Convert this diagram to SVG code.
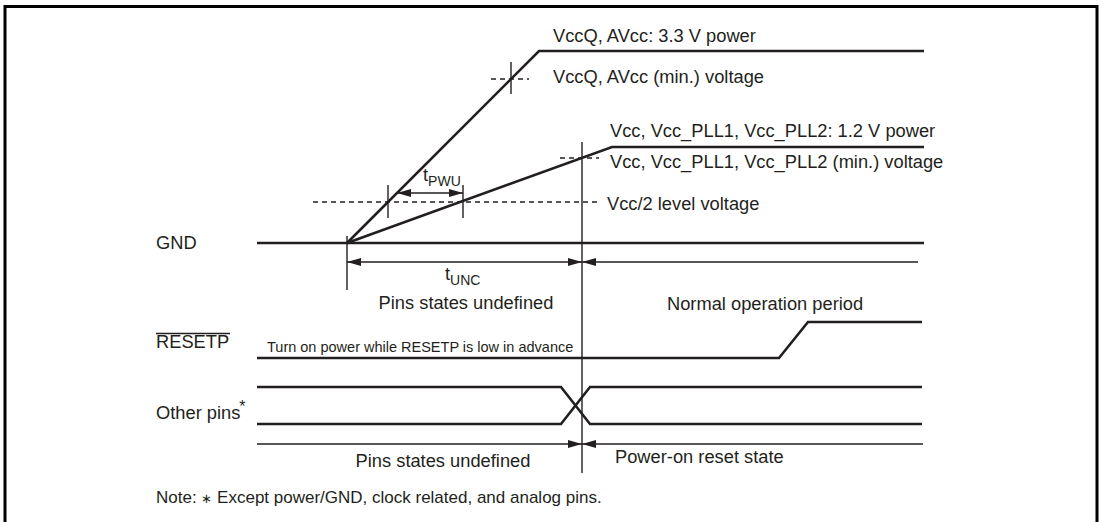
<svg xmlns="http://www.w3.org/2000/svg" width="1102" height="522" viewBox="0 0 1102 522">
<style>
text{font-family:"Liberation Sans",Arial,sans-serif;font-size:18.3px;fill:#231f20}
.small{font-size:14.5px}
.sub{font-size:14px}
.note{font-size:17px}
.sig{fill:none;stroke:#231f20;stroke-width:2.6;stroke-linejoin:miter}
.thin{fill:none;stroke:#231f20;stroke-width:1.4}
.dash{fill:none;stroke:#231f20;stroke-width:1.3;stroke-dasharray:5 4}
</style>
<defs>
<marker id="ah" viewBox="0 0 14 8" refX="14" refY="4" markerWidth="14" markerHeight="8" markerUnits="userSpaceOnUse" orient="auto-start-reverse">
<path d="M0,0 L14,4 L0,8 Z" fill="#231f20"/>
</marker>
</defs>
<path d="M5,524 V6.5 H1097 V524" fill="none" stroke="#000" stroke-width="3"/>

<g id="connectors">
<path class="thin" d="M582,142 V473"/>
<path class="thin" d="M347,236 V290"/>
<path class="thin" d="M511,62 V94"/>
<path class="thin" d="M388,185 V218"/>
<path class="thin" d="M463,185 V218"/>
<path class="dash" d="M491,79 H529"/>
<path class="dash" d="M560,158 H599"/>
<path class="dash" d="M313,202 H600"/>
<path class="thin" d="M397,193 H463" marker-start="url(#ah)" marker-end="url(#ah)"/>
<path class="thin" d="M347,262 H582" marker-start="url(#ah)" marker-end="url(#ah)"/>
<path class="thin" d="M918,262 H582" marker-end="url(#ah)"/>
<path class="thin" d="M257,444 H582" marker-end="url(#ah)"/>
<path class="thin" d="M923,444 H582" marker-end="url(#ah)"/>
</g>

<g id="gnd">
<text x="156" y="249">GND</text>
<path class="sig" d="M257,243 H924"/>
</g>
<g id="vccq">
<path class="sig" d="M347,243 L539,51 H924"/>
<text x="553" y="42">VccQ, AVcc: 3.3 V power</text>
<text x="553" y="83">VccQ, AVcc (min.) voltage</text>
</g>
<g id="vcc">
<path class="sig" d="M347,243 L612,147 H924"/>
<text x="610" y="137">Vcc, Vcc_PLL1, Vcc_PLL2: 1.2 V power</text>
<text x="610" y="168">Vcc, Vcc_PLL1, Vcc_PLL2 (min.) voltage</text>
<text x="607" y="210">Vcc/2 level voltage</text>
</g>
<g id="tpwu">
<text x="423" y="181">t<tspan class="sub" dy="5">PWU</tspan></text>
</g>
<g id="tunc">
<text x="445" y="280">t<tspan class="sub" dy="5">UNC</tspan></text>
<text x="466" y="309" text-anchor="middle">Pins states undefined</text>
<text x="667" y="310">Normal operation period</text>
</g>
<g id="resetp">
<text x="156" y="348">RESETP</text>
<path class="thin" d="M156,333.5 H230" stroke-width="1.2"/>
<text class="small" x="267" y="352">Turn on power while RESETP is low in advance</text>
<path class="sig" d="M257,358 H779 L808,322 H922"/>
</g>
<g id="otherpins">
<text x="156" y="419">Other pins<tspan font-size="16" dx="-1" dy="-7">*</tspan></text>
<path class="sig" d="M257,387 H561 L590,424 H922"/>
<path class="sig" d="M257,424 H561 L590,387 H922"/>
</g>
<g id="states">
<text x="443" y="467" text-anchor="middle">Pins states undefined</text>
<text x="615" y="463">Power-on reset state</text>
</g>
<g id="note">
<text class="note" x="156" y="503">Note: <tspan font-size="13">∗</tspan> Except power/GND, clock related, and analog pins.</text>
</g>
</svg>
